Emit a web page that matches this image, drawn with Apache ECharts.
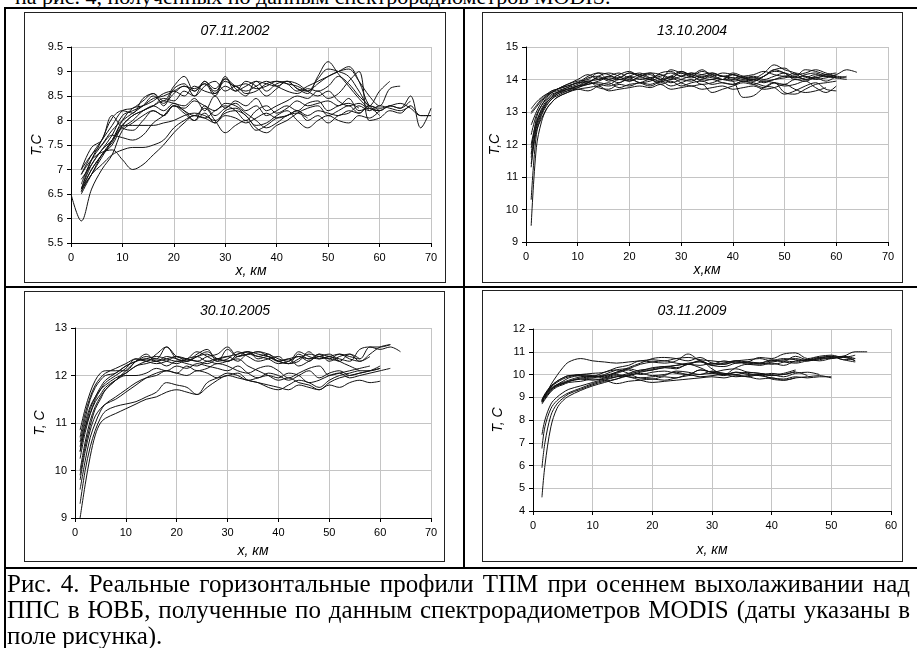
<!DOCTYPE html>
<html>
<head>
<meta charset="utf-8">
<script src="https://cdn.jsdelivr.net/npm/echarts@6/dist/echarts.min.js"></script>
<style>
  html, body { margin: 0; padding: 0; background: #fff; }
  body { width: 917px; height: 648px; position: relative; overflow: hidden; }
  #chart { position: absolute; left: 0; top: 0; width: 917px; height: 648px; }
  .rule { position: absolute; background: #000; }
  .frame { position: absolute; border: 1px solid #222; box-sizing: border-box; }
  .txt { position: absolute; font-family: "Liberation Serif", serif; font-size: 22px; line-height: 26px; color: #000; white-space: nowrap; }
  .cap { font-size: 25px; }
  .just { text-align: justify; text-align-last: justify; width: 903px; }
</style>
</head>
<body>
<div class="txt" style="left:15px; top:-16px;">на рис. 4, полученных по данным спектрорадиометров MODIS.</div>

<div class="frame" style="left:24px; top:12px; width:422px; height:271px"></div>
<div class="frame" style="left:482px; top:12px; width:421px; height:271px"></div>
<div class="frame" style="left:24px; top:291px; width:421px; height:271px"></div>
<div class="frame" style="left:482px; top:290px; width:421px; height:272px"></div>

<div class="rule" style="left:4px; top:7px; width:913px; height:2px"></div>
<div class="rule" style="left:4px; top:286px; width:913px; height:2px"></div>
<div class="rule" style="left:4px; top:567px; width:913px; height:2px"></div>
<div class="rule" style="left:4px; top:7px; width:2px; height:641px"></div>
<div class="rule" style="left:463px; top:7px; width:2px; height:561px"></div>

<div id="chart"></div>

<div class="txt cap just" style="left:7px; top:571px;">Рис. 4. Реальные горизонтальные профили ТПМ при осеннем выхолаживании над</div>
<div class="txt cap just" style="left:7px; top:597px;">ППС в ЮВБ, полученные по данным спектрорадиометров MODIS (даты указаны в</div>
<div class="txt cap" style="left:7px; top:623px;">поле рисунка).</div>

<script>
// distance along the section, km
const xs2002 = [0, 2, 4, 6, 8, 10, 12, 14, 16, 18, 20, 22, 24, 26, 28, 30, 32, 34, 36, 38, 40, 42, 44, 46, 48, 50, 52, 54, 56, 58, 60, 62, 64, 66, 68, 70];
const xs2004 = [1, 2, 3, 4, 5, 6, 8, 10, 12, 14, 16, 18, 20, 22, 24, 26, 28, 30, 32, 34, 36, 38, 40, 42, 44, 46, 48, 50, 52, 54, 56, 58, 60, 62, 64];
const xs2005 = [1, 2, 3, 4, 5, 6, 8, 10, 12, 14, 16, 18, 20, 22, 24, 26, 28, 30, 32, 34, 36, 38, 40, 42, 44, 46, 48, 50, 52, 54, 56, 58, 60, 62, 64];
const xs2009 = [1.5, 2, 3, 4, 5, 6, 8, 10, 12, 14, 16, 18, 20, 22, 24, 26, 28, 30, 32, 34, 36, 38, 40, 42, 44, 46, 48, 50, 52, 54, 56];

// 07.11.2002 profiles, T (C)
const t2002 = [
  [6.5, 5.95, 6.6, 7.0, 7.3, 7.8, 7.95, 8.1, 8.2, 8.1, 8.3, 8.15, 8.0, 8.15, 7.95, 8.1, 8.05, 7.95, 8.05, 8.15, 8.05, 8.1, 8.2, 8.1, 8.2, 8.15, 8.1, 8.2, 8.15, 8.3, 8.25, 8.3, 8.35, 8.25, 8.1, 8.1],
  [null, 6.6, 7.1, 7.4, 7.7, 8.1, 8.2, 8.3, 8.45, 8.5, 8.6, 8.7, 8.65, 8.75, 8.6, 8.8, 8.7, 8.75, 8.65, 8.7, 8.8, 8.75, 8.7, 8.6, 8.85, 9.05, 9.0, 8.9, 8.6, 8.3, 8.6, 8.8],
  [null, 6.9, 7.3, 7.6, 7.9, 8.2, 8.25, 8.4, 8.55, 8.4, 8.7, 8.9, 8.6, 8.75, 8.5, 8.85, 8.65, 8.5, 8.8, 8.75, 8.7, 8.8, 8.65, 8.6, 8.75, 8.9, 9.0, 9.05, 8.8, 8.5, 8.3, 8.65, 8.7],
  [null, 6.7, 7.2, 7.5, 7.8, 8.0, 8.15, 8.3, 8.5, 8.35, 8.55, 8.7, 8.6, 8.8, 8.55, 8.9, 8.6, 8.7, 8.8, 8.6, 8.75, 8.8, 8.65, 8.55, 8.9, 9.2, 8.95, 8.7, 8.45, 8.25, 8.2, 8.3, 8.25, 8.4],
  [null, 6.55, 7.0, 7.3, 7.6, 7.85, 8.0, 8.2, 8.3, 8.45, 8.4, 8.6, 8.5, 8.7, 8.8, 8.6, 8.7, 8.55, 8.6, 8.75, 8.8, 8.75, 8.6, 8.7, 8.8, 8.9, 9.0, 9.1, 8.8, 8.3, 8.2, 8.3, 8.25, 8.5, 7.85, 8.25],
  [null, 6.6, 6.9, 7.3, 7.5, 7.9, 8.1, 8.2, 8.3, 8.4, 8.35, 8.3, 8.45, 8.2, 8.5, 8.25, 8.4, 8.3, 8.45, 8.2, 8.3, 8.4, 8.5, 8.45, 8.6, 8.45, 8.55, 8.8, 9.0, 8.0, 8.05, 8.2, 8.15, 8.3, 8.1, 8.1],
  [null, 6.8, 7.1, 7.4, 7.6, 7.9, 8.1, 8.2, 8.3, 8.2, 8.35, 8.2, 8.1, 8.25, 8.0, 7.75, 7.9, 8.0, 7.8, 7.9, 8.05, 8.1, 8.2, 8.0, 8.1, 7.95, 8.1, 8.15, 8.3, 8.2, 8.3, 8.25, 8.2, 8.3],
  [null, 6.6, 7.0, 7.3, 7.55, 7.9, 7.9, 7.9, 7.9, 7.95, 8.0, 8.1, 8.15, 8.1, 8.0, 8.15, 8.2, 8.1, 7.85, 7.75, 7.9, 8.0, 8.15, 8.25, 8.3, 8.1, 8.2, 8.3, 8.15, 8.3, 8.2],
  [null, 6.9, 7.2, 7.35, 7.4, 7.2, 7.0, 7.1, 7.3, 7.5, 7.75, 7.95, 8.1, 8.05, 7.95, 8.2, 8.25, 8.1, 7.9, 7.95, 8.1, 8.2, 8.0, 7.85, 8.0, 8.1, 8.0, 7.95, 8.1, 8.05, 8.2],
  [null, 6.55, 6.9, 7.1, 7.3, 7.4, 7.45, 7.45, 7.5, 7.6, 7.85, 8.0, 8.1, 8.05, 8.2, 8.3, 8.2, 8.0, 8.2, 8.3, 8.15, 8.25, 8.4, 8.3, 8.35, 8.4, 8.3, 8.45, 8.2, 8.25, 8.1],
  [null, 7.0, 7.3, 7.5, 7.7, 7.65, 7.6, 7.7, 7.95, 8.1, 8.3, 8.2, 8.0, 8.3, 8.1, 8.25, 8.35, 8.2, 8.3, 8.1, 8.2, 8.3, 8.2, 8.35, 8.4, 8.2, 8.3, 8.35, 8.25],
  [null, 6.6, 7.2, 7.6, 8.05, 8.2, 8.15, 8.45, 8.55, 8.3, 8.65, 8.75, 8.5, 8.8, 8.65, 8.85, 8.7, 8.6, 8.7, 8.8, 8.7, 8.6, 8.55, 8.65, 8.6, 8.7, 8.9, 8.75, 8.5, 8.3],
  [null, 6.5, 6.9, 7.25, 7.6, 8.0, 8.25, 8.3, 8.4, 8.55, 8.6, 8.5, 8.7, 8.6, 8.55, 8.7, 8.6, 8.8, 8.7, 8.5, 8.65, 8.8, 8.75, 8.6, 8.5, 8.6, 8.4, 8.3, 8.35, 8.2],
  [null, 7.0, 7.45, 7.6, 8.1, 7.85, 7.8, 8.0, 8.2, 8.1, 8.3, 8.25, 8.4, 8.3, 8.2, 8.35, 8.3, 8.15, 8.0, 7.85, 7.95, 8.1, 8.15, 8.05]
];

// 13.10.2004 profiles
const t2004 = [
  [9.5, 11.9, 12.7, 13.1, 13.3, 13.45, 13.6, 13.75, 13.85, 13.9, 13.85, 14.0, 13.95, 14.05, 14.0, 13.9, 14.1, 14.0, 13.95, 14.1, 14.05, 14.0, 13.95, 14.0, 14.05, 13.95, 14.0, 14.1, 14.05, 14.1, 14.0, 14.05, 14.1, 14.05],
  [10.3, 12.3, 12.9, 13.2, 13.4, 13.5, 13.65, 13.8, 13.9, 14.05, 14.0, 13.9, 14.1, 14.2, 14.05, 13.95, 14.0, 14.25, 14.1, 14.0, 14.15, 14.1, 14.0, 14.05, 13.95, 14.1, 14.3, 14.2, 14.05, 14.15, 14.2, 14.1, 14.15, 14.3, 14.22],
  [11.3, 12.6, 13.1, 13.35, 13.5, 13.6, 13.7, 13.8, 13.95, 13.75, 13.7, 13.85, 13.8, 13.9, 13.85, 13.95, 13.8, 13.9, 14.0, 13.85, 13.9, 14.0, 13.95, 13.45, 13.5, 13.75, 13.9, 13.85, 14.0, 13.95, 14.05, 13.95, 14.1],
  [11.7, 12.8, 13.2, 13.4, 13.55, 13.6, 13.7, 13.75, 13.9, 14.1, 14.2, 14.1, 13.95, 14.1, 14.15, 14.0, 14.3, 14.2, 14.1, 14.25, 14.15, 14.0, 14.2, 14.1, 14.05, 14.2, 14.45, 14.3, 14.2, 14.0, 14.1, 14.15, 14.1],
  [12.6, 13.0, 13.3, 13.5, 13.65, 13.7, 13.8, 13.9, 13.95, 14.0, 14.1, 14.05, 14.2, 14.1, 14.0, 14.2, 14.25, 14.1, 14.2, 14.05, 14.2, 14.1, 14.15, 14.05, 13.95, 14.1, 14.3, 14.35, 14.15, 14.2, 14.3, 14.2, 14.1],
  [12.95, 13.15, 13.35, 13.5, 13.6, 13.7, 13.85, 13.95, 14.0, 14.2, 14.15, 14.0, 14.05, 13.9, 13.95, 14.05, 13.9, 14.0, 14.1, 13.95, 14.0, 13.9, 13.85, 13.95, 13.9, 13.8, 13.75, 13.55, 13.65, 13.8, 13.9, 13.7, 13.65],
  [11.4, 12.4, 12.8, 13.1, 13.3, 13.45, 13.6, 13.7, 13.75, 13.8, 13.65, 13.7, 13.75, 13.8, 13.75, 13.85, 13.7, 13.75, 13.8, 13.7, 13.75, 13.8, 13.7, 13.75, 13.8, 13.7, 13.75, 13.85, 13.7, 13.6, 13.65, 13.75],
  [13.0, 13.2, 13.4, 13.55, 13.65, 13.7, 13.8, 13.9, 14.1, 14.2, 14.0, 14.15, 14.25, 14.1, 14.2, 14.15, 14.0, 14.1, 14.2, 14.15, 14.1, 14.2, 14.15, 14.05, 14.1, 14.0, 14.1, 14.2, 14.1, 14.3, 14.25, 14.15, 14.05, 14.1],
  [12.0, 12.7, 13.05, 13.3, 13.45, 13.55, 13.7, 13.8, 13.85, 13.95, 14.05, 14.0, 14.1, 14.0, 14.05, 14.15, 14.05, 14.2, 14.15, 14.05, 14.0, 14.1, 14.05, 13.95, 14.0, 13.9, 14.0, 14.05, 14.1, 14.0, 14.05, 14.1, 14.05, 14.0],
  [11.6, 12.5, 12.95, 13.25, 13.4, 13.55, 13.65, 13.7, 13.65, 13.8, 13.9, 13.75, 13.85, 13.9, 14.0, 13.85, 13.95, 13.8, 13.9, 13.95, 13.85, 13.9, 13.85, 13.95, 13.85, 13.75, 13.9, 13.6, 13.55, 13.7, 13.85, 13.9, 13.95],
  [12.3, 12.9, 13.2, 13.45, 13.6, 13.65, 13.75, 13.85, 14.05, 14.1, 13.95, 14.05, 14.2, 14.15, 14.05, 14.1, 14.2, 14.1, 14.05, 14.15, 14.2, 14.1, 14.05, 14.1, 14.15, 14.25, 14.15, 14.1, 14.2, 14.1, 14.05, 14.15, 14.2],
  [11.9, 12.6, 13.0, 13.3, 13.45, 13.6, 13.75, 13.9, 13.9, 13.85, 13.8, 13.9, 14.0, 13.9, 13.8, 13.95, 14.05, 13.9, 13.8, 13.85, 13.6, 13.7, 13.8, 13.9, 13.85, 13.95, 13.9, 13.8, 13.85, 13.95, 13.75, 13.6, 13.8],
  [13.1, 13.3, 13.45, 13.55, 13.6, 13.7, 13.85, 14.0, 14.15, 14.0, 14.1, 14.2, 14.05, 14.15, 14.2, 14.0, 14.1, 14.25, 14.15, 14.3, 14.1, 14.0, 14.15, 14.05, 14.0, 14.1, 14.25, 14.2, 14.0, 14.05, 14.15, 14.1, 14.05]
];

// 30.10.2005 profiles
const t2005 = [
  [10.85, 11.3, 11.65, 11.9, 12.05, 12.1, 12.1, 12.1, 12.3, 12.35, 12.3, 12.4, 12.35, 12.3, 12.4, 12.45, 12.35, 12.4, 12.45, 12.5, 12.4, 12.45, 12.3, 12.35, 12.4, 12.3, 12.45, 12.4, 12.35, 12.3, 12.55, 12.6, 12.6, 12.65],
  [10.6, 11.1, 11.5, 11.75, 11.9, 12.0, 12.05, 12.2, 12.3, 12.4, 12.35, 12.6, 12.35, 12.3, 12.4, 12.5, 12.35, 12.3, 12.45, 12.5, 12.35, 12.4, 12.3, 12.25, 12.35, 12.45, 12.4, 12.35, 12.45, 12.4, 12.35, 12.6, 12.55, 12.6, 12.5],
  [10.4, 10.9, 11.3, 11.55, 11.75, 11.9, 12.05, 12.2, 12.3, 12.35, 12.4, 12.35, 12.3, 12.35, 12.5, 12.4, 12.3, 12.55, 12.4, 12.45, 12.5, 12.45, 12.35, 12.3, 12.5, 12.4, 12.35, 12.4, 12.45, 12.35, 12.3, 12.45, 12.6, 12.65],
  [10.25, 10.8, 11.2, 11.5, 11.7, 11.85, 12.0, 12.15, 12.35, 12.3, 12.25, 12.3, 12.4, 12.35, 12.3, 12.25, 12.35, 12.4, 12.3, 12.45, 12.4, 12.35, 12.25, 12.3, 12.4, 12.35, 12.45, 12.3, 12.4, 12.45, 12.35],
  [10.0, 10.6, 11.05, 11.35, 11.55, 11.7, 11.9, 12.1, 12.3, 12.45, 12.3, 12.35, 12.4, 12.3, 12.45, 12.55, 12.3, 12.35, 12.5, 12.4, 12.3, 12.35, 12.4, 12.25, 12.3, 12.5, 12.35, 12.4, 12.3, 12.45, 12.3, 12.4],
  [9.0, 9.7, 10.3, 10.75, 11.0, 11.1, 11.2, 11.3, 11.4, 11.5, 11.55, 11.65, 11.7, 11.65, 11.6, 11.75, 11.9, 12.0, 11.95, 11.9, 11.85, 11.8, 11.75, 11.7, 11.8, 11.75, 11.7, 11.8, 11.75, 11.85, 11.9, 11.85, 11.88],
  [9.3, 10.0, 10.5, 10.85, 11.1, 11.25, 11.35, 11.4, 11.45, 11.55, 11.65, 11.85, 11.8, 11.75, 11.6, 11.85, 11.95, 12.05, 12.0, 11.9, 11.95, 12.0, 11.95, 12.05, 12.0, 11.85, 11.9, 12.0, 12.05, 11.95, 12.0, 12.05, 12.1, 12.15],
  [9.8, 10.4, 10.85, 11.15, 11.3, 11.4, 11.5, 11.65, 11.8, 11.95, 12.05, 12.1, 12.05, 12.0, 12.1, 12.05, 11.95, 12.0, 12.05, 11.9, 11.85, 11.75, 11.7, 11.8, 11.9, 11.85, 11.75, 11.9, 12.0, 12.05, 12.1, 12.1, 12.15],
  [10.4, 10.9, 11.2, 11.45, 11.6, 11.75, 11.9, 12.0, 12.0, 12.05, 12.15, 12.1, 12.2, 12.15, 12.25, 12.2, 12.15, 12.1, 12.2, 12.05, 11.95, 12.05, 12.0, 11.9, 12.0, 12.1, 11.95, 12.05, 12.1, 12.0, 12.05, 12.1, 12.2],
  [9.6, 10.2, 10.7, 11.0, 11.25, 11.4, 11.55, 11.7, 11.85, 11.95, 12.0, 12.1, 12.05, 12.2, 12.1, 12.15, 12.25, 12.2, 12.1, 12.05, 12.15, 12.2, 12.1, 11.95, 12.05, 12.15, 12.2, 12.0, 12.05, 12.1, 12.15, 12.2],
  [10.7, 11.2, 11.55, 11.8, 11.95, 12.05, 12.15, 12.25, 12.35, 12.3, 12.45, 12.6, 12.4, 12.35, 12.3, 12.4, 12.45, 12.6, 12.4, 12.5, 12.45, 12.4, 12.3, 12.25, 12.45, 12.35, 12.4, 12.45, 12.3, 12.2, 12.1],
  [9.9, 10.5, 10.95, 11.3, 11.5, 11.7, 11.9, 12.05, 12.2, 12.3, 12.35, 12.3, 12.25, 12.35, 12.4, 12.3, 12.35, 12.3, 12.4, 12.45, 12.5, 12.4, 12.3, 12.35, 12.2, 12.3, 12.4, 12.35, 12.3],
  [10.5, 11.0, 11.35, 11.55, 11.7, 11.8, 11.95, 12.05, 12.2, 12.25, 12.3, 12.2, 12.3, 12.25, 12.2, 12.3, 12.25, 12.3, 12.35, 12.2, 12.1, 12.0, 11.9, 11.95, 11.85, 11.8, 11.7, 11.85, 11.95, 12.0, 12.05, 12.1, 12.15]
];

// 03.11.2009 profiles
const t2009 = [
  [4.6, 6.0, 7.7, 8.5, 8.85, 9.05, 9.3, 9.5, 9.65, 9.8, 9.95, 10.1, 10.2, 10.3, 10.4, 10.45, 10.4, 10.5, 10.45, 10.55, 10.5, 10.45, 10.55, 10.6, 10.55, 10.65, 10.6, 10.7, 10.75, 10.6],
  [5.9, 7.0, 8.2, 8.7, 8.95, 9.15, 9.35, 9.55, 9.7, 9.8, 10.0, 10.15, 10.3, 10.35, 10.4, 10.5, 10.55, 10.4, 10.5, 10.6, 10.45, 10.5, 10.6, 10.7, 10.65, 10.6, 10.7, 10.8, 10.65, 10.55],
  [6.75, 7.7, 8.5, 8.85, 9.05, 9.2, 9.4, 9.6, 9.75, 9.9, 10.05, 10.2, 10.25, 10.35, 10.3, 10.45, 10.6, 10.25, 10.0, 10.3, 10.45, 10.4, 10.5, 10.4, 10.6, 10.65, 10.75, 10.7, 10.8, 10.7],
  [7.35, 8.0, 8.7, 9.0, 9.2, 9.35, 9.5, 9.65, 9.8, 9.9, 9.95, 10.05, 9.95, 10.0, 10.1, 10.0, 10.2, 10.1, 10.0, 10.1, 10.05, 9.95, 10.05, 10.0, 10.15],
  [8.8, 9.05, 9.55, 9.95, 10.3, 10.55, 10.7, 10.6, 10.55, 10.5, 10.55, 10.6, 10.65, 10.6, 10.7, 10.75, 10.65, 10.6, 10.55, 10.6, 10.65, 10.7, 10.6, 10.65, 10.7, 10.6, 10.75, 10.8, 10.65, 10.7],
  [8.85, 9.05, 9.35, 9.55, 9.65, 9.75, 9.9, 9.95, 9.9, 10.1, 10.25, 10.45, 10.55, 10.6, 10.5, 10.45, 10.6, 10.4, 10.35, 10.5, 10.55, 10.5, 10.45, 10.55, 10.8, 10.65, 10.7, 10.75, 10.8, 11.0, 11.0],
  [8.9, 9.1, 9.4, 9.55, 9.6, 9.7, 9.8, 9.75, 9.85, 10.0, 9.9, 9.85, 9.8, 9.9, 9.85, 10.0, 9.9, 9.95, 10.0, 9.9, 9.95, 10.0, 9.8, 9.75, 9.85, 9.9, 9.95, 9.85],
  [8.8, 9.0, 9.3, 9.5, 9.6, 9.7, 9.8, 9.85, 9.95, 10.1, 10.3, 10.5, 10.7, 10.75, 10.7, 10.6, 10.75, 10.5, 10.45, 10.6, 10.55, 10.5, 10.65, 10.55, 10.5, 10.6, 10.65, 10.75, 10.8, 10.6],
  [8.75, 8.95, 9.3, 9.55, 9.7, 9.85, 9.95, 9.9, 9.95, 10.05, 10.2, 10.0, 10.1, 10.15, 10.05, 10.0, 10.2, 10.1, 10.05, 10.0, 10.1, 10.05, 10.0, 9.9, 10.05, 10.1, 10.0],
  [8.85, 9.1, 9.45, 9.65, 9.8, 9.9, 10.0, 9.95, 9.85, 9.95, 9.9, 9.75, 9.65, 9.7, 9.75, 9.8, 9.85, 9.9, 9.85, 9.95, 9.9, 9.8, 9.85, 9.75, 9.85],
  [8.9, 9.15, 9.5, 9.7, 9.85, 9.95, 9.95, 9.9, 10.0, 10.2, 10.25, 10.15, 10.2, 10.3, 10.25, 10.45, 10.3, 10.1, 10.2, 10.25, 10.1, 10.05, 9.95, 10.0, 10.1, 9.95],
  [8.8, 9.1, 9.45, 9.7, 9.85, 9.95, 10.0, 10.05, 10.1, 10.3, 10.4, 10.6, 10.55, 10.5, 10.6, 10.9, 10.6, 10.45, 10.6, 10.5, 10.55, 10.75, 10.7, 10.9, 10.95, 10.7, 10.8, 10.85, 10.75, 10.85],
  [8.85, 9.05, 9.35, 9.5, 9.6, 9.7, 9.85, 9.9, 10.1, 10.2, 10.05, 9.85, 9.9, 9.95, 10.15, 10.1, 10.0, 10.15, 10.05, 10.0, 9.9, 10.0, 9.95, 10.05, 10.2],
  [8.7, 8.9, 9.25, 9.45, 9.55, 9.65, 9.7, 9.8, 9.75, 9.6, 9.7, 9.75, 9.8, 9.75, 9.85, 9.95, 10.0, 10.05, 9.95, 10.1, 10.0, 9.95, 9.85, 9.8, 9.9, 9.85, 9.9, 9.9]
];

const FONT = '"Liberation Sans", Arial, sans-serif';

const panels = [
  { xs: xs2002, lines: t2002, grid: { left: 71, top: 47, width: 360, height: 196 },
    xMax: 70, yMin: 5.5, yMax: 9.5, yStep: 0.5, title: '07.11.2002', tx: 235, ty: 31,
    xName: 'x, км', xGap: 20, yName: 'T,C', yGap: 24 },
  { xs: xs2004, lines: t2004, grid: { left: 526, top: 47, width: 362, height: 195 },
    xMax: 70, yMin: 9, yMax: 15, yStep: 1, title: '13.10.2004', tx: 692, ty: 31,
    xName: 'x,км', xGap: 21, yName: 'T,C', yGap: 21 },
  { xs: xs2005, lines: t2005, grid: { left: 75, top: 328, width: 356, height: 190 },
    xMax: 70, yMin: 9, yMax: 13, yStep: 1, title: '30.10.2005', tx: 235, ty: 311,
    xName: 'x, км', xGap: 26, yName: 'T, C', yGap: 28 },
  { xs: xs2009, lines: t2009, grid: { left: 533, top: 329, width: 358, height: 182 },
    xMax: 60, yMin: 4, yMax: 12, yStep: 1, title: '03.11.2009', tx: 692, ty: 311,
    xName: 'x, км', xGap: 32, yName: 'T, C', yGap: 28 }
];

const option = { animation: false, grid: [], xAxis: [], yAxis: [], series: [], graphic: [] };

panels.forEach((p, i) => {
  option.grid.push(Object.assign({ show: false }, p.grid));
  option.xAxis.push({
    type: 'value', gridIndex: i, min: 0, max: p.xMax, interval: 10,
    name: p.xName, nameLocation: 'middle', nameGap: p.xGap,
    nameTextStyle: { fontFamily: FONT, fontStyle: 'italic', fontSize: 14, color: '#000' },
    axisLine: { show: true, onZero: false, lineStyle: { color: '#000', width: 1 } },
    axisTick: { show: true, length: 4, lineStyle: { color: '#000' } },
    axisLabel: { fontFamily: FONT, fontSize: 11, color: '#000', margin: 9 },
    splitLine: { show: true, lineStyle: { color: '#c4c4c4', width: 1 } }
  });
  option.yAxis.push({
    type: 'value', gridIndex: i, min: p.yMin, max: p.yMax, interval: p.yStep,
    name: p.yName, nameLocation: 'middle', nameGap: p.yGap,
    nameTextStyle: { fontFamily: FONT, fontStyle: 'italic', fontSize: 14, color: '#000' },
    axisLine: { show: true, onZero: false, lineStyle: { color: '#000', width: 1 } },
    axisTick: { show: true, length: 4, lineStyle: { color: '#000' } },
    axisLabel: { fontFamily: FONT, fontSize: 11, color: '#000', margin: 8 },
    splitLine: { show: true, lineStyle: { color: '#c4c4c4', width: 1 } }
  });
  p.lines.forEach(vals => {
    option.series.push({
      type: 'line', xAxisIndex: i, yAxisIndex: i,
      data: vals.map((v, k) => [p.xs[k], v]),
      showSymbol: false, symbol: 'none', smooth: 0.35, silent: true,
      lineStyle: { color: '#111', width: 1 }
    });
  });
  option.graphic.push({
    type: 'text', x: p.tx, y: p.ty,
    style: { text: p.title, align: 'center', verticalAlign: 'middle',
             font: 'italic 14px ' + FONT, fill: '#000' }
  });
});

const chart = echarts.init(document.getElementById('chart'));
chart.setOption(option);
</script>
</body>
</html>
